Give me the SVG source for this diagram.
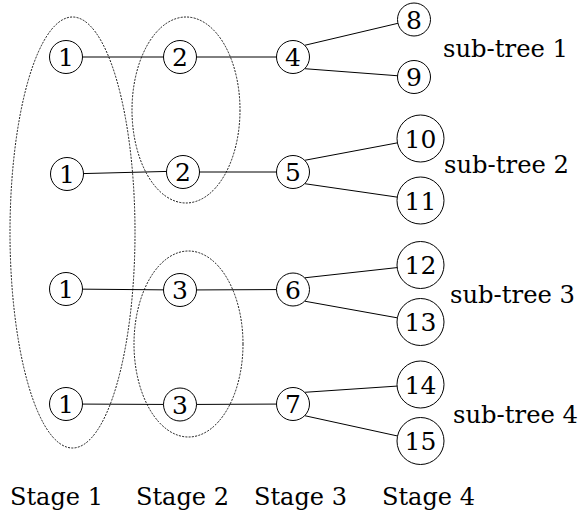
<svg xmlns="http://www.w3.org/2000/svg" width="582" height="515" viewBox="0 0 582 515">
  <style>
    .edge { stroke: #000; stroke-width: 1; fill: none; }
    .group { stroke: #000; stroke-width: 0.9; stroke-dasharray: 2 1.3; fill: none; }
    .node circle { fill: #fff; stroke: #000; stroke-width: 1; }
    text { font-family: 'DejaVu Serif', 'Liberation Serif', 'Times New Roman', serif; font-size: 25px; fill: #000; }
    .node text { text-anchor: middle; }
  </style>

  <!-- stage groupings -->
  <g id="groups">
    <ellipse class="group" cx="72.5" cy="232.5" rx="62.5" ry="215.5"/>
    <ellipse class="group" cx="186" cy="110" rx="54" ry="93"/>
    <ellipse class="group" cx="188.5" cy="344" rx="54.5" ry="93"/>
  </g>

  <!-- connectors -->
  <g id="connectors">
    <line class="edge" x1="66" y1="57" x2="180" y2="57"/>
    <line class="edge" x1="180" y1="57" x2="293" y2="57"/>
    <line class="edge" x1="67" y1="174" x2="183" y2="171"/>
    <line class="edge" x1="183" y1="172" x2="293" y2="172"/>
    <line class="edge" x1="66" y1="289" x2="180" y2="290"/>
    <line class="edge" x1="180" y1="290" x2="293" y2="289.5"/>
    <line class="edge" x1="66" y1="404" x2="180" y2="404.5"/>
    <line class="edge" x1="180" y1="404.5" x2="293" y2="404"/>

    <line class="edge" x1="304.7" y1="45.3" x2="414" y2="19.5"/>
    <line class="edge" x1="304.7" y1="68.7" x2="414" y2="77"/>
    <line class="edge" x1="304.7" y1="160.3" x2="420.5" y2="138.5"/>
    <line class="edge" x1="304.7" y1="183.7" x2="420.5" y2="200.5"/>
    <line class="edge" x1="304.7" y1="277.8" x2="420.5" y2="265"/>
    <line class="edge" x1="304.7" y1="301.2" x2="420.5" y2="322"/>
    <line class="edge" x1="304.7" y1="392.3" x2="420.5" y2="384.5"/>
    <line class="edge" x1="304.7" y1="415.7" x2="420.5" y2="441"/>
  </g>

  <!-- stage 1 -->
  <g id="n1a" class="node"><circle cx="66" cy="57" r="16.5"/><text x="66" y="66">1</text></g>
  <g id="n1b" class="node"><circle cx="67" cy="174" r="16.5"/><text x="67" y="183">1</text></g>
  <g id="n1c" class="node"><circle cx="66" cy="289" r="16.5"/><text x="66" y="298">1</text></g>
  <g id="n1d" class="node"><circle cx="66" cy="404" r="16.5"/><text x="66" y="413">1</text></g>

  <!-- stage 2 -->
  <g id="n2a" class="node"><circle cx="180" cy="57" r="16.5"/><text x="180" y="66">2</text></g>
  <g id="n2b" class="node"><circle cx="183" cy="172" r="16.5"/><text x="183" y="181">2</text></g>
  <g id="n3c" class="node"><circle cx="180" cy="290" r="16.5"/><text x="180" y="299">3</text></g>
  <g id="n3d" class="node"><circle cx="180" cy="404.5" r="16.5"/><text x="180" y="413.5">3</text></g>

  <!-- stage 3 -->
  <g id="n4" class="node"><circle cx="293" cy="57" r="16.5"/><text x="293" y="66">4</text></g>
  <g id="n5" class="node"><circle cx="293" cy="172" r="16.5"/><text x="293" y="181">5</text></g>
  <g id="n6" class="node"><circle cx="293" cy="289.5" r="16.5"/><text x="293" y="298.5">6</text></g>
  <g id="n7" class="node"><circle cx="293" cy="404" r="16.5"/><text x="293" y="413">7</text></g>

  <!-- stage 4 -->
  <g id="n8" class="node"><circle cx="414" cy="19.5" r="16.5"/><text x="414" y="28.5">8</text></g>
  <g id="n9" class="node"><circle cx="414" cy="77" r="16.5"/><text x="414" y="86">9</text></g>
  <g id="n10" class="node"><circle cx="420.5" cy="138.5" r="23.5"/><text x="420.5" y="147.5">10</text></g>
  <g id="n11" class="node"><circle cx="420.5" cy="200.5" r="23.5"/><text x="420.5" y="209.5">11</text></g>
  <g id="n12" class="node"><circle cx="420.5" cy="265" r="23.5"/><text x="420.5" y="274">12</text></g>
  <g id="n13" class="node"><circle cx="420.5" cy="322" r="23.5"/><text x="420.5" y="331">13</text></g>
  <g id="n14" class="node"><circle cx="420.5" cy="384.5" r="23.5"/><text x="420.5" y="393.5">14</text></g>
  <g id="n15" class="node"><circle cx="420.5" cy="441" r="23.5"/><text x="420.5" y="450">15</text></g>

  <!-- sub-tree labels -->
  <g id="subtree-labels">
    <text x="443" y="57" textLength="125" lengthAdjust="spacingAndGlyphs">sub-tree 1</text>
    <text x="444" y="173" textLength="125" lengthAdjust="spacingAndGlyphs">sub-tree 2</text>
    <text x="450" y="303" textLength="125" lengthAdjust="spacingAndGlyphs">sub-tree 3</text>
    <text x="453" y="423" textLength="125" lengthAdjust="spacingAndGlyphs">sub-tree 4</text>
  </g>

  <!-- stage labels -->
  <g id="stage-labels">
    <text x="10" y="505" textLength="93" lengthAdjust="spacingAndGlyphs">Stage 1</text>
    <text x="136" y="505" textLength="93" lengthAdjust="spacingAndGlyphs">Stage 2</text>
    <text x="254" y="505" textLength="93" lengthAdjust="spacingAndGlyphs">Stage 3</text>
    <text x="382" y="505" textLength="93" lengthAdjust="spacingAndGlyphs">Stage 4</text>
  </g>
</svg>
